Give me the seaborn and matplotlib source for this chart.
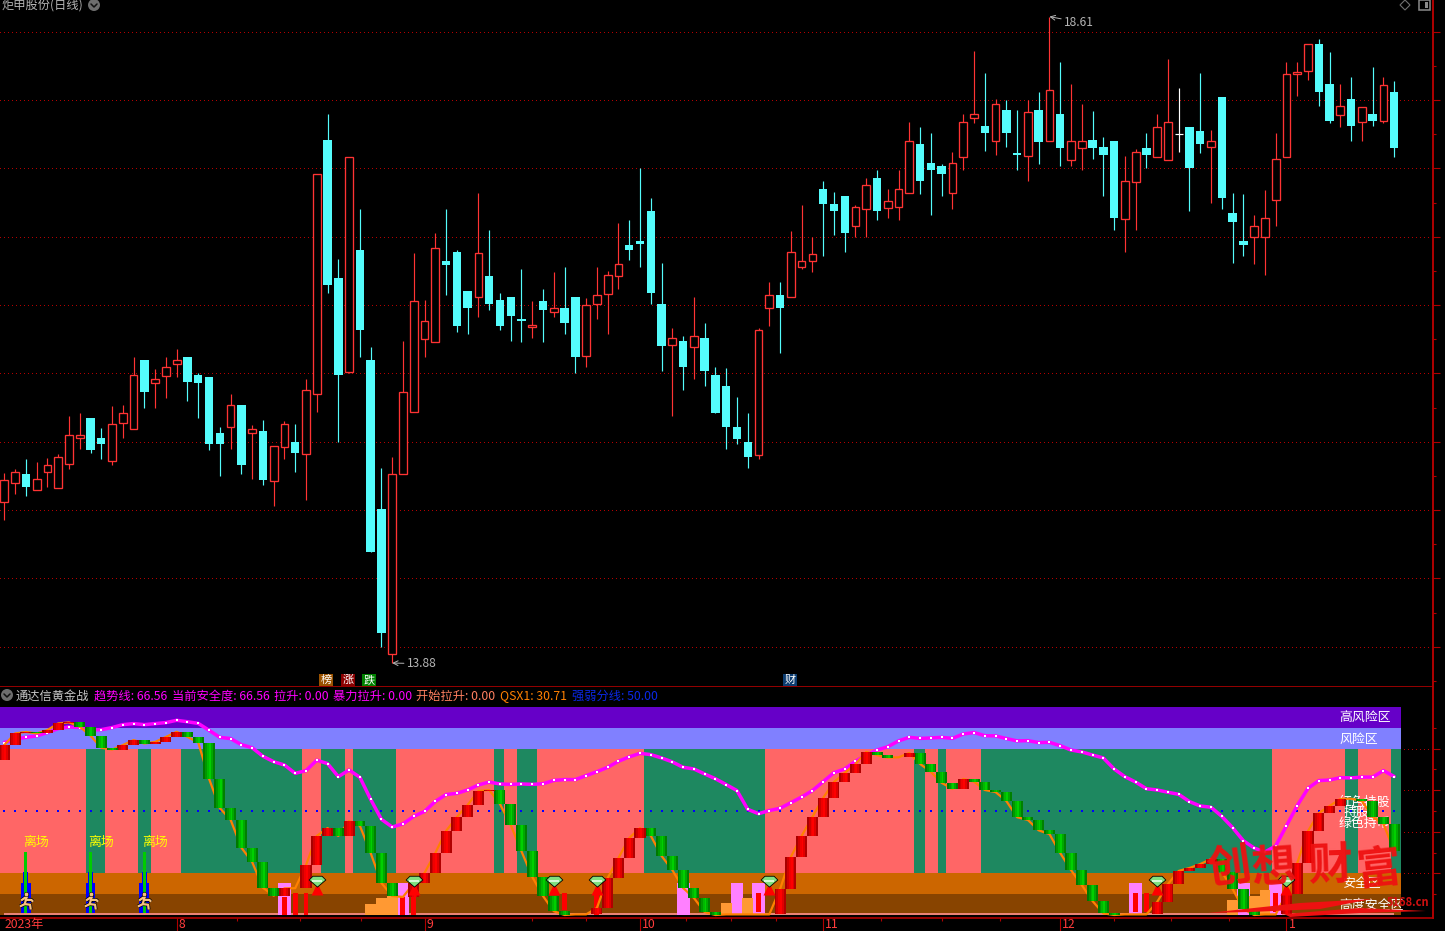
import matplotlib
matplotlib.use('Agg')
import matplotlib.pyplot as plt
import numpy as np
import pandas as pd
import seaborn as sns
from matplotlib.patches import Circle, Polygon, Rectangle
from matplotlib.path import Path
from matplotlib.transforms import Affine2D, blended_transform_factory

kinds = ("RRCRRRRRCC" "RRRCRRRCCC" "CRCRCRRCRR" "CCRCCCRRRR" "RCCCRCCCCR"
         "CRCCRRRRCC" "CCRCRCCCCC" "RRCRRRCCCR" "RCRRRCCCRR" "RCRCCRCRCR"
         "RCCCRRCRRW" "CCRCCCRRRR" "RRCCRCRCRC")

highs = [15.27, 15.30, 15.37, 15.35, 15.38, 15.41, 15.69, 15.71, 15.67, 15.60,
         15.76, 15.77, 16.12, 16.10, 16.03, 16.12, 16.18, 16.12, 16.00, 15.97,
         15.61, 15.85, 15.77, 15.62, 15.66, 15.47, 15.65, 15.63, 15.96, 17.46,
         17.90, 16.84, 17.58, 17.20, 16.19, 15.31, 15.39, 16.24, 16.88, 16.54,
         17.03, 17.20, 16.90, 16.60, 17.32, 17.05, 16.59, 16.56, 16.76, 16.53,
         16.62, 16.74, 16.78, 16.56, 16.55, 16.78, 16.75, 17.10, 17.12, 17.50,
         17.28, 16.81, 16.33, 16.27, 16.56, 16.37, 16.05, 16.04, 15.83, 15.71,
         16.33, 16.67, 16.67, 17.04, 17.23, 17.00, 17.41, 17.33, 17.30, 17.23,
         17.43, 17.49, 17.35, 17.49, 17.84, 17.80, 17.76, 17.53, 17.62, 17.90,
         18.36, 18.20, 18.01, 18.00, 17.93, 18.00, 18.06, 18.61, 18.28, 18.12,
         17.97, 17.92, 17.73, 17.70, 17.59, 17.64, 17.76, 17.90, 18.30, 18.09,
         17.80, 18.20, 17.78, 18.02, 17.32, 17.31, 17.16, 17.34, 17.76, 18.28,
         18.28, 18.41, 18.45, 18.35, 18.12, 18.17, 17.95, 18.24, 18.17, 18.14]

body_tops = [15.22, 15.28, 15.26, 15.23, 15.33, 15.39, 15.55, 15.55, 15.67, 15.53,
             15.63, 15.71, 15.99, 16.10, 15.96, 16.05, 16.10, 16.12, 15.99, 15.97,
             15.56, 15.77, 15.77, 15.59, 15.58, 15.47, 15.63, 15.50, 15.88, 17.46,
             17.71, 16.70, 17.58, 16.90, 16.10, 15.01, 15.26, 15.86, 16.53, 16.38,
             16.92, 16.82, 16.89, 16.60, 16.88, 16.71, 16.54, 16.56, 16.40, 16.35,
             16.53, 16.48, 16.48, 16.56, 16.50, 16.57, 16.72, 16.80, 16.94, 16.97,
             17.19, 16.51, 16.26, 16.24, 16.27, 16.26, 15.99, 15.91, 15.61, 15.50,
             16.32, 16.57, 16.57, 16.89, 16.82, 16.87, 17.35, 17.24, 17.30, 17.22,
             17.38, 17.43, 17.26, 17.35, 17.70, 17.68, 17.54, 17.52, 17.54, 17.84,
             17.90, 17.81, 17.97, 17.93, 17.61, 17.91, 17.93, 18.07, 17.90, 17.70,
             17.70, 17.71, 17.66, 17.70, 17.41, 17.62, 17.65, 17.80, 17.84, 17.75,
             17.80, 17.77, 17.70, 18.02, 17.17, 16.97, 17.08, 17.14, 17.57, 18.19,
             18.20, 18.41, 18.41, 18.12, 17.96, 18.01, 17.95, 17.90, 18.11, 18.06]

body_bottoms = [15.06, 15.20, 15.17, 15.15, 15.28, 15.16, 15.34, 15.53, 15.44, 15.48,
                15.36, 15.64, 15.59, 15.86, 15.93, 15.98, 16.07, 15.94, 15.93, 15.48,
                15.48, 15.61, 15.33, 15.56, 15.22, 15.21, 15.46, 15.42, 15.41, 15.85,
                16.65, 15.99, 16.01, 16.32, 14.69, 14.10, 13.95, 15.26, 15.72, 16.25,
                16.23, 16.79, 16.35, 16.48, 16.56, 16.51, 16.35, 16.42, 16.38, 16.34,
                16.46, 16.45, 16.37, 16.12, 16.13, 16.51, 16.58, 16.71, 16.90, 16.95,
                16.59, 16.20, 16.21, 16.05, 16.19, 16.02, 15.71, 15.61, 15.52, 15.39,
                15.40, 16.48, 16.48, 16.56, 16.78, 16.82, 17.24, 17.19, 17.03, 17.08,
                17.20, 17.19, 17.21, 17.22, 17.32, 17.41, 17.49, 17.46, 17.32, 17.58,
                17.87, 17.76, 17.70, 17.76, 17.60, 17.59, 17.69, 17.70, 17.65, 17.56,
                17.65, 17.65, 17.60, 17.14, 17.13, 17.40, 17.60, 17.58, 17.56, 17.75,
                17.50, 17.68, 17.66, 17.28, 17.11, 16.94, 17.00, 17.00, 17.27, 17.58,
                18.19, 18.21, 18.06, 17.85, 17.89, 17.81, 17.84, 17.85, 17.85, 17.65]

lows = [14.93, 15.12, 15.10, 15.15, 15.17, 15.16, 15.30, 15.45, 15.42, 15.37,
        15.33, 15.53, 15.59, 15.75, 15.75, 15.82, 15.97, 15.80, 15.67, 15.44,
        15.25, 15.45, 15.26, 15.23, 15.18, 15.03, 15.37, 15.28, 15.07, 15.72,
        16.59, 15.50, 16.00, 16.12, 14.69, 14.00, 13.88, 15.26, 15.72, 16.12,
        16.23, 16.57, 16.30, 16.29, 16.41, 16.46, 16.32, 16.24, 16.23, 16.26,
        16.23, 16.41, 16.29, 16.00, 16.05, 16.40, 16.29, 16.62, 16.83, 16.78,
        16.51, 16.02, 15.69, 15.88, 15.96, 15.91, 15.71, 15.45, 15.48, 15.31,
        15.37, 16.35, 16.15, 16.56, 16.76, 16.74, 16.86, 17.01, 16.89, 17.00,
        17.00, 17.12, 17.14, 17.12, 17.32, 17.31, 17.16, 17.30, 17.20, 17.49,
        17.83, 17.63, 17.60, 17.66, 17.49, 17.41, 17.53, 17.70, 17.52, 17.52,
        17.49, 17.57, 17.30, 17.05, 16.89, 17.05, 17.50, 17.58, 17.56, 17.62,
        17.19, 17.61, 17.25, 17.20, 16.81, 16.86, 16.80, 16.72, 17.08, 17.58,
        18.03, 18.15, 17.96, 17.83, 17.80, 17.70, 17.70, 17.81, 17.83, 17.58]

# lower panel series, one value per bar
trend = [82.9, 84.5, 85.4, 86.1, 87.7, 89.6, 90.4, 90.1, 88.9, 89.1,
         90.1, 91.5, 92.0, 91.5, 92.0, 92.5, 93.6, 92.9, 92.1, 88.8,
         85.4, 84.8, 81.9, 80.4, 76.3, 73.7, 72.1, 68.1, 69.4, 74.4,
         72.8, 66.5, 69.7, 66.2, 55.6, 46.0, 42.3, 43.8, 47.4, 49.8,
         54.6, 57.9, 58.5, 60.1, 62.5, 63.9, 63.0, 62.8, 63.0, 62.8,
         63.1, 64.7, 65.1, 65.1, 67.0, 68.9, 71.0, 73.9, 76.0, 77.7,
         77.1, 75.5, 73.6, 71.0, 70.2, 67.8, 65.5, 62.7, 59.8, 50.8,
         48.7, 50.2, 51.3, 54.0, 56.7, 59.8, 64.1, 68.4, 70.2, 73.9,
         76.9, 79.3, 80.9, 83.7, 85.4, 84.9, 85.1, 85.4, 84.9, 87.0,
         87.7, 86.2, 86.1, 84.8, 83.7, 83.8, 82.9, 83.0, 81.4, 79.3,
         78.4, 76.9, 75.5, 70.2, 66.5, 63.9, 60.7, 60.1, 59.0, 58.0,
         54.5, 52.4, 51.8, 47.4, 42.0, 35.7, 32.2, 30.3, 33.2, 42.9,
         52.6, 60.9, 64.6, 64.9, 66.0, 65.9, 66.3, 66.3, 69.4, 66.56]

qsx_start = 74.5
qsx = [81.7, 87.3, 88.0, 87.3, 88.9, 92.1, 92.6, 90.5, 86.2, 80.4,
       79.5, 81.7, 84.1, 82.4, 83.2, 85.6, 88.1, 85.6, 82.9, 65.5,
       51.4, 45.8, 32.4, 25.5, 13.1, 9.3, 12.8, 12.9, 24.0, 38.0,
       41.8, 38.0, 45.2, 42.9, 29.8, 15.4, 9.1, 8.7, 15.2, 20.2,
       29.8, 40.4, 47.1, 52.9, 59.6, 60.1, 53.4, 43.3, 30.6, 18.3,
       9.1, 1.8, 0.0, 0.3, 0.3, 3.4, 17.8, 27.4, 37.0, 41.8,
       38.1, 28.4, 21.6, 13.0, 8.2, 1.4, 0.0, 0.3, 0.3, 0.3,
       0.3, 0.3, 12.5, 27.9, 38.0, 47.1, 56.3, 63.9, 68.3, 72.6,
       78.4, 76.9, 75.6, 75.8, 77.9, 72.6, 68.8, 63.5, 60.6, 65.4,
       64.1, 60.1, 59.1, 54.8, 47.0, 45.7, 40.7, 38.9, 29.8, 21.6,
       14.4, 6.7, 0.8, 0.0, 0.3, 0.3, 0.3, 6.3, 14.9, 21.2,
       22.6, 24.5, 26.9, 20.7, 12.5, 2.9, 0.0, 0.3, 0.3, 10.1,
       25.0, 40.4, 49.0, 52.4, 55.8, 55.9, 54.8, 47.1, 43.8, 30.71]

green_runs = [(7.58, 9.35), (12.41, 13.61), (16.4, 27.63), (29.39, 31.62), (32.36, 36.35),
              (45.45, 46.38), (47.58, 49.44), (59.37, 70.6), (84.43, 85.45), (86.65, 87.4),
              (90.65, 117.65), (124.4, 125.6), (128.7, 129.63)]

pink_ids = [26, 37, 63, 68, 70, 105, 115, 118]
pink_vals = [15.4, 15.4, 15.4, 15.4, 15.4, 15.4, 15.4, 15.4]
orange_ids = [34, 35, 36, 67, 69, 114, 116, 117]
orange_vals = [5.3, 8.2, 9.1, 5.8, 8.2, 7.2, 9.1, 12.0]
narrow_ids = [26, 27, 28, 37, 38, 52, 55, 70, 105, 106, 118]
narrow_tops = [8.8, 10.4, 10.4, 8.8, 10.4, 10.4, 10.4, 10.4, 10.4, 10.4, 10.4]
narrow_bots = [0, 0, 0, 0, 0, 2.4, 0, 1.4, 1.4, 1.4, 1.4]
gem_ids = [29, 38, 51, 55, 71, 107, 119]
exit_ids = [2, 8, 13]

month_ticks = [16, 39, 59, 76, 98, 119]
month_labels = ['8', '9', '10', '11', '12', '1']
minor_ticks = [21.6, 27.4, 33.1, 49, 54, 63.3, 67.4, 71.6, 81.4, 87, 92.4, 103, 108.3, 113.7]
price_grid = [14, 14.5, 15, 15.5, 16, 16.5, 17, 17.5, 18, 18.5]
low_grid = [20, 40, 60, 80]

RED = '#ff3333'
CYAN = '#54fcfc'
AXIS_RED = '#b00000'
GRID_RED = '#b40000'
GRAY = '#b4b4b4'

sns.set_theme(style='dark')
plt.rcParams['font.family'] = ['Noto Sans CJK SC', 'DejaVu Sans']
plt.rcParams['axes.unicode_minus'] = False

W, H = 1445, 931
fig = plt.figure(figsize=(W / 100, H / 100), dpi=100, facecolor='black')
px = Affine2D().scale(1, -1).translate(0, H)

ax = fig.add_axes([0, (H - 687) / H, 1433 / W, 687 / H], facecolor='black')
low = fig.add_axes([0, (H - 918) / H, 1433 / W, 231 / H], facecolor='black')

bar_ids = np.arange(130)
x_left, x_right = -0.4, 132.6
for a in (ax, low):
    a.set_xlim(x_left, x_right)
    for side in ('top', 'left'):
        a.spines[side].set_visible(False)
    a.spines['right'].set_color(AXIS_RED)
    a.spines['right'].set_linewidth(1.4)
    a.grid(False)
ax.spines['bottom'].set_color(AXIS_RED)
low.spines['bottom'].set_color(AXIS_RED)
ax.spines['bottom'].set_linewidth(1.2)
low.spines['bottom'].set_linewidth(1.2)


def dotted_grid(target, levels, z):
    # one pixel dots, no smoothing, so they stay crisp like the terminal's
    for level in levels:
        target.plot([x_left, x_right], [level, level], color=GRID_RED, lw=0.72, ls=(0, (1, 3)),
                    antialiased=False, zorder=z)


# price panel
ax.set_ylim(13.705, 18.732)
ax.set_xticks([])
ax.yaxis.tick_right()
ax.set_yticks(price_grid)
ax.set_yticklabels([])
ax.set_yticks([p + 0.25 for p in price_grid[:-1]] + [13.75], minor=True)
ax.tick_params(axis='y', which='major', length=5, width=0.8, color=AXIS_RED)
ax.tick_params(axis='y', which='minor', length=2.2, width=0.8, color=AXIS_RED, left=False, right=True)
dotted_grid(ax, price_grid, 1)
ax.set_xlim(x_left, x_right)

candles = pd.DataFrame({'bar': bar_ids, 'kind': list(kinds), 'high': highs, 'low': lows,
                        'top': body_tops, 'bottom': body_bottoms})
wick_colors = {'R': RED, 'C': CYAN, 'W': 'white'}
for kind, part in candles.groupby('kind'):
    color = wick_colors[kind]
    ax.vlines(part['bar'], part['low'], part['high'], color=color, lw=0.85, zorder=2)
    heights = (part['top'] - part['bottom']).clip(lower=0.012)
    if kind == 'R':
        ax.bar(part['bar'], heights, bottom=part['bottom'], width=0.72, facecolor='black',
               edgecolor=color, lw=0.95, zorder=3)
    elif kind == 'C':
        ax.bar(part['bar'], heights, bottom=part['bottom'], width=0.78, color=color, lw=0, zorder=3)
    else:
        ax.hlines(part['top'], part['bar'] - 0.36, part['bar'] + 0.36, color=color, lw=0.85, zorder=3)

ax.annotate('13.88', xy=(36, 13.88), xytext=(15, -4), textcoords='offset pixels', color=GRAY,
            fontsize=8.6, arrowprops=dict(arrowstyle='->', color=GRAY, lw=0.7, shrinkA=0, shrinkB=0))
ax.annotate('18.61', xy=(97, 18.61), xytext=(15, -9), textcoords='offset pixels', color=GRAY,
            fontsize=8.6, arrowprops=dict(arrowstyle='->', color=GRAY, lw=0.7, shrinkA=0, shrinkB=0))

# lower panel
low.set_ylim(-1.44, 109.6)
low.yaxis.tick_right()
low.set_yticks(low_grid)
low.set_yticklabels([])
low.set_yticks([10, 30, 50, 70, 90], minor=True)
low.tick_params(axis='y', which='major', length=5, width=0.8, color=AXIS_RED)
low.tick_params(axis='y', which='minor', length=2.2, width=0.8, color=AXIS_RED, left=False, right=True)
dotted_grid(low, low_grid, 0.5)

band_w = 129.63 - x_left
band_spec = [(90, 10, '#6600c8'), (80, 10, '#8080ff'), (20, 60, '#ff6666'), (10, 10, '#cc6600'), (0, 10, '#884400')]
for bottom, height, color in band_spec:
    low.broken_barh([(x_left, band_w)], (bottom, height), facecolor=color, lw=0, zorder=1)
low.broken_barh([(a, b - a) for a, b in green_runs], (20, 60), facecolor='#1e8860', lw=0, zorder=1.1)
low.hlines(0.3, 0, 129, color='#ff9090', lw=1.2, zorder=1.2)

# zone captions sit under the bars
for txt, tx, cy in [('高风险区', 1339, 718), ('风险区', 1339, 739), ('红色持股', 1339, 802), ('持股', 1344, 812),
                    ('绿色持币', 1339, 823), ('安全区', 1342, 884), ('高度安全区', 1339, 905)]:
    low.text(tx, cy, txt, color='white', fontsize=9.3, va='center', ha='left', transform=px, zorder=1.4)

sns.scatterplot(x=bar_ids, y=[50] * 130, color='#0000ff', marker='s', s=1.1, lw=0, ax=low, zorder=1.5, legend=False)

# tall columns; native_scale multiplies width by the smallest gap between ids
sns.barplot(x=pink_ids, y=pink_vals, native_scale=True, width=0.6, color='#ff80ff', saturation=1,
            lw=0, ax=low, zorder=2)
sns.barplot(x=orange_ids, y=orange_vals, native_scale=True, width=1.0, color='#ff9933', saturation=1,
            lw=0, ax=low, zorder=2.1)
low.set_xlim(x_left, x_right)
low.set_ylim(-1.44, 109.6)
low.set_xlabel('')
low.set_ylabel('')
low.bar(narrow_ids, np.array(narrow_tops) - np.array(narrow_bots), bottom=narrow_bots, width=0.46,
        color='#ff0000', lw=0, zorder=2.2)

sns.lineplot(x=bar_ids, y=trend, color='#ff00ff', lw=2.5, ax=low, zorder=3, legend=False)
low.scatter(bar_ids, trend, s=1.0, color='white', marker='s', lw=0, zorder=3.1)
sns.lineplot(x=bar_ids, y=qsx, color='#ff8000', lw=1.6, ax=low, zorder=3.2, legend=False)

# stepped bars between consecutive line values, shaded across their width
prev = np.r_[qsx_start, qsx[:-1]]
cur = np.array(qsx)
change = cur - prev
up = (change >= 0) & (np.abs(change) >= 0.45)
down = (change < 0) & (np.abs(change) >= 0.45)
reds = ['#a80000', '#d00000', '#f00000', '#ff0000', '#e00000', '#b00000']
greens = ['#007800', '#009800', '#00b800', '#00d000', '#00a800', '#008000']
n_slice = len(reds)
slice_w = 1.02 / n_slice
for k in range(n_slice):
    off = -0.51 + slice_w * (k + 0.5)
    low.bar(bar_ids[up] + off, np.maximum(change[up], 0.7), bottom=prev[up], width=slice_w * 1.05,
            color=reds[k], lw=0, zorder=4)
    low.bar(bar_ids[down] + off, np.minimum(change[down], -0.7), bottom=prev[down], width=slice_w * 1.05,
            color=greens[k], lw=0, zorder=4)

# exit signal columns with a runner
low.bar(exit_ids, [14.3] * 3, bottom=1.1, width=0.92, color='#0000ff', lw=0, zorder=4.2)
low.bar(exit_ids, [5.3] * 3, bottom=15.4, width=0.46, color='#0000ff', lw=0, zorder=4.2)
low.bar(exit_ids, [29.3] * 3, bottom=1.0, width=0.28, color='#00cc00', lw=0, zorder=4.3)
runner = Path([(0.05, 0.55), (-0.05, 0.05), (0.4, 0.05), (0.55, -0.1), (-0.05, 0.05), (-0.15, -0.3), (-0.55, -0.5),
               (-0.15, -0.3), (0.3, -0.35), (0.35, -0.75), (0.05, 0.35), (-0.45, 0.0)],
              [Path.MOVETO, Path.LINETO, Path.LINETO, Path.LINETO, Path.MOVETO, Path.LINETO, Path.LINETO,
               Path.MOVETO, Path.LINETO, Path.LINETO, Path.MOVETO, Path.LINETO])
low.plot(exit_ids, [7.0] * 3, ls='none', marker=runner, ms=13, mfc='none', mec='black', mew=2.6, zorder=4.4)
low.plot(exit_ids, [7.0] * 3, ls='none', marker=runner, ms=13, mfc='none', mec='#f6c080', mew=1.6, zorder=4.5)
low.plot(exit_ids, [10.2] * 3, ls='none', marker='o', ms=3.2, mfc='#f6c080', mec='black', mew=0.4, zorder=4.6)
for cx in (36.5, 101, 155):
    low.text(cx, 842, '离场', color='#ffff00', fontsize=9.3, ha='center', va='center', transform=px, zorder=4.6)

# gem markers with a red arrow
gem = Path([(-1, 0.3), (-0.55, 0.75), (0.55, 0.75), (1, 0.3), (0, -0.55), (-1, 0.3)], closed=True)
low.vlines(gem_ids, 9.8, 13.5, color='#ff0000', lw=1.6, zorder=5)
low.plot(gem_ids, [12.6] * 7, ls='none', marker='^', ms=8, mfc='#ff0000', mec='none', zorder=5)
low.plot(gem_ids, [15.8] * 7, ls='none', marker=gem, ms=12, mfc='#7fe07f', mec='black', mew=0.6, zorder=5.1)
low.plot(gem_ids, [16.5] * 7, ls='none', marker='_', ms=7, mec='#e6ffe6', mew=1.2, zorder=5.2)

# bottom axis
low.set_xticks(month_ticks)
low.set_xticklabels([])
low.set_xticks(minor_ticks, minor=True)
low.tick_params(axis='x', which='major', length=10, width=0.8, color=AXIS_RED, bottom=True)
low.tick_params(axis='x', which='minor', length=2.5, width=0.8, color=AXIS_RED, bottom=True)
tick_text = blended_transform_factory(low.transData, px)
for tick, lab in zip(month_ticks, month_labels):
    low.text(tick + 0.2, 931, lab, color='#ff3c3c', fontsize=8.8, va='bottom', ha='left',
             transform=tick_text, clip_on=False)
fig.text(5, 931, '2023年', color='#ff3c3c', fontsize=8.8, transform=px, va='bottom')

# header rows
fig.text(2, 6, '炬申股份(日线)', color=GRAY, fontsize=8.8, va='center', transform=px)
fig.text(16, 696, '通达信黄金战', color='#c8c8c8', fontsize=8.8, va='center', transform=px)
legend_items = [(94, '趋势线: 66.56', '#ff00ff'), (172, '当前安全度: 66.56', '#ff00ff'), (274, '拉升: 0.00', '#ff00ff'),
                (333, '暴力拉升: 0.00', '#ff00ff'), (416, '开始拉升: 0.00', '#ff8060'),
                (500, 'QSX1: 30.71', '#ff8000'), (572, '强弱分线: 50.00', '#0a28e6')]
for lx, txt, col in legend_items:
    fig.text(lx, 696, txt, color=col, fontsize=8.8, va='center', transform=px)

for cx, cy in [(94, 5), (7, 695)]:
    fig.add_artist(Circle((cx, cy), 6, transform=px, facecolor='#6e6e6e', edgecolor='none'))
    fig.add_artist(plt.Line2D([cx - 3, cx, cx + 3], [cy - 1, cy + 2, cy - 1], transform=px, color='#101010', lw=1.1))
fig.add_artist(Polygon([(1405, 0), (1410, 5), (1405, 10), (1400, 5)], closed=True, transform=px,
                       fill=False, edgecolor='#707070', lw=0.8))
fig.add_artist(Rectangle((1419, 0), 11, 10, transform=px, fill=False, edgecolor='#8a8a8a', lw=1.1))
fig.add_artist(Rectangle((1425, 2), 3, 6, transform=px, facecolor='#8a8a8a', edgecolor='none'))

for cx, txt, col in [(326, '榜', '#9a5200'), (348, '涨', '#8b0000'), (369, '跌', '#008000'), (790, '财', '#0c3c70')]:
    fig.text(cx, 680, txt, color='white', fontsize=8, ha='center', va='center', transform=px,
             bbox=dict(facecolor=col, edgecolor='none', pad=0.8))

# brush-style watermark
for cx, cy, ch, rot in [(1229, 868, '创', 8), (1274, 868, '想', 4), (1331, 866, '财', 2), (1379, 870, '富', 6)]:
    fig.text(cx, cy, ch, color='#ee1111', fontsize=32, fontweight='bold', ha='center', va='center',
             rotation=rot, transform=px, alpha=0.95)
for pts in [[(1208, 913), (1300, 903), (1372, 899), (1320, 909), (1250, 912)],
            [(1284, 914), (1360, 908), (1426, 911), (1360, 913), (1290, 917)]]:
    fig.add_artist(Polygon(pts, closed=True, transform=px, facecolor='#ee1111', edgecolor='none'))
fig.text(1387, 903, '5168.cn', color='#d01010', fontsize=8, fontweight='bold', va='center', transform=px)

fig.savefig('out.png', dpi=100, facecolor='black')
